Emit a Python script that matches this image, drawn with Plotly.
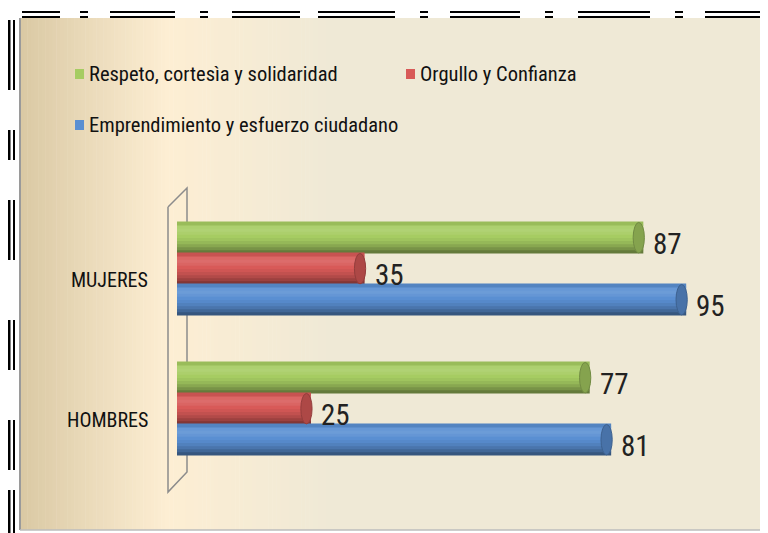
import plotly.graph_objects as go

categories = ["HOMBRES", "MUJERES"]
series_names = ["Respeto, cortesìa y solidaridad", "Orgullo y Confianza", "Emprendimiento y esfuerzo ciudadano"]
respeto = [77, 87]
orgullo = [25, 35]
emprendimiento = [81, 95]
series_values = [respeto, orgullo, emprendimiento]
colors = ["#A6CC62", "#D85A58", "#5A8FD2"]

W, H = 768, 533
OFF = 8  # page body margin offset
SL, SR, ST, SB = 177, 713, 190, 490
L, T = SL - OFF, ST - OFF
R = W - (SR - OFF)
B = H - (SB - OFF)
FONT = "Liberation Sans Narrow, Arial Narrow, Roboto Condensed, sans-serif"

BAR_W = 31 / 140.0
# slot offsets (top series first): green top, red middle, blue bottom
slot_offsets = [0.5 * BAR_W, -0.5 * BAR_W, -1.5 * BAR_W]
# cylinder shading profile, bottom -> top (factor >1 lightens, <1 darkens)
profile = [0.60, 0.72, 0.82, 0.90, 0.96, 1.0, 1.04, 1.07, 1.05, 0.92]
NS = len(profile)


def hex2rgb(h):
    h = h.lstrip("#")
    return tuple(int(h[i:i + 2], 16) for i in (0, 2, 4))


def shade(h, f):
    r, g, b = hex2rgb(h)
    if f >= 1:
        t = f - 1
        c = [v + (255 - v) * t * 1.6 for v in (r, g, b)]
    else:
        c = [v * f for v in (r, g, b)]
    return "#%02x%02x%02x" % tuple(max(0, min(255, int(round(v)))) for v in c)


fig = go.Figure()
shapes = []
annotations = []
for i in range(3):
    vals = series_values[i]
    for s in range(NS):
        fig.add_trace(go.Bar(
            y=categories, x=vals, orientation="h", name=series_names[i],
            width=BAR_W / NS + 0.006, offset=slot_offsets[i] + s * BAR_W / NS,
            marker=dict(color=shade(colors[i], profile[s]), line_width=0),
            showlegend=False, hoverinfo="skip" if s else "x+name",
        ))
    for j, v in enumerate(vals):
        yc = j + slot_offsets[i] + BAR_W / 2
        # cylinder end cap
        shapes.append(dict(type="circle", xref="x", yref="y", x0=v - 1.9, x1=v + 0.2,
                           y0=yc - BAR_W / 2 + 0.004, y1=yc + BAR_W / 2,
                           fillcolor=shade(colors[i], 0.8), line=dict(color=shade(colors[i], 0.68), width=1)))
        annotations.append(dict(xref="x", yref="y", x=v, y=yc, text=str(v), showarrow=False,
                                xanchor="left", yanchor="middle", xshift=8, yshift=-6,
                                font=dict(size=29, color="#222222", family=FONT)))

# category labels (drawn slightly below group centers, as in the 3D original)
for j, c in enumerate(categories):
    annotations.append(dict(xref="paper", yref="y", x=0, y=j, text=c, showarrow=False,
                            xanchor="right", yanchor="middle", xshift=-27, yshift=-11,
                            font=dict(size=20, color="#111111", family=FONT)))


def px2x(px):
    return (px - SL) / (SR - SL)


def py2y(py):
    return (SB - py) / (SB - ST)


def lerp(c1, c2, t):
    return "#%02x%02x%02x" % tuple(int(round(a + (b - a) * t)) for a, b in zip(c1, c2))


c_left = (0xDA, 0xC9, 0xA4)
c_mid = (0xFD, 0xEE, 0xD3)
c_right = (0xEF, 0xE9, 0xD6)
x0, xm, x1 = 20, 165, 330
n = 40
bg = []
for k in range(n):
    a = x0 + (xm - x0) * k / n
    b = x0 + (xm - x0) * (k + 1) / n + 0.5
    bg.append(dict(type="rect", xref="paper", yref="paper", x0=px2x(a), x1=px2x(b),
                   y0=py2y(530), y1=py2y(18), fillcolor=lerp(c_left, c_mid, k / n), line_width=0, layer="below"))
for k in range(n):
    a = xm + (x1 - xm) * k / n
    b = xm + (x1 - xm) * (k + 1) / n + 0.5
    bg.append(dict(type="rect", xref="paper", yref="paper", x0=px2x(a), x1=px2x(b),
                   y0=py2y(530), y1=py2y(18), fillcolor=lerp(c_mid, c_right, k / n), line_width=0, layer="below"))
bg.append(dict(type="rect", xref="paper", yref="paper", x0=px2x(x1), x1=px2x(780),
               y0=py2y(530), y1=py2y(18), fillcolor=lerp(c_right, c_right, 0), line_width=0, layer="below"))
bg.append(dict(type="line", xref="paper", yref="paper", x0=px2x(20), x1=px2x(20),
               y0=py2y(530), y1=py2y(18), line=dict(color="#9a9a9a", width=2)))
bg.append(dict(type="line", xref="paper", yref="paper", x0=px2x(20), x1=px2x(780),
               y0=py2y(530), y1=py2y(530), line=dict(color="#bdbdbd", width=1.5)))
# 3D wall outline
wall = [(168, 207), (187, 188), (187, 472), (168, 492), (168, 207)]
path = "M " + " L ".join(f"{px2x(x)},{py2y(y)}" for x, y in wall)
bg.append(dict(type="path", xref="paper", yref="paper", path=path,
               line=dict(color="#8C8C8C", width=1.5), layer="below"))
# top/left artifact dashes of the original screenshot
for xa, xb in [(22, 60), (80, 88), (110, 175), (200, 208), (232, 300), (318, 395), (420, 428), (450, 520), (545, 553), (578, 650), (675, 683), (705, 768)]:
    for yy in (12, 17):
        bg.append(dict(type="line", xref="paper", yref="paper", x0=px2x(xa), x1=px2x(xb),
                       y0=py2y(yy), y1=py2y(yy), line=dict(color="#000000", width=2)))
for yy0, yy1 in [(20, 90), (130, 160), (200, 260), (320, 370), (420, 470), (490, 533)]:
    bg.append(dict(type="line", xref="paper", yref="paper", x0=px2x(9), x1=px2x(9),
                   y0=py2y(yy0), y1=py2y(yy1), line=dict(color="#000000", width=3)))
    bg.append(dict(type="line", xref="paper", yref="paper", x0=px2x(14), x1=px2x(14),
                   y0=py2y(yy0), y1=py2y(yy1), line=dict(color="#000000", width=2)))

# manual legend
legend_pos = [(75, 74), (406, 74), (75, 125)]
for i, (lx, ly) in enumerate(legend_pos):
    bg.append(dict(type="rect", xref="paper", yref="paper", x0=px2x(lx), x1=px2x(lx + 9),
                   y0=py2y(ly + 5), y1=py2y(ly - 5), fillcolor=colors[i], line_width=0))
    annotations.append(dict(xref="paper", yref="paper", x=px2x(lx + 12), y=py2y(ly), text=series_names[i],
                            showarrow=False, xanchor="left", yanchor="middle",
                            font=dict(size=20.5, color="#111111", family=FONT)))

fig.update_layout(
    width=W, height=H,
    margin=dict(l=L, r=R, t=T, b=B),
    paper_bgcolor="#FFFFFF", plot_bgcolor="rgba(0,0,0,0)",
    barmode="overlay",
    showlegend=False,
    xaxis=dict(range=[0, 100], visible=False, showgrid=False, zeroline=False),
    yaxis=dict(range=[-0.579, 1.564], showgrid=False, zeroline=False, showline=False,
               ticks="", showticklabels=False),
    shapes=bg + shapes, annotations=annotations,
)

fig.write_html("out.html")
